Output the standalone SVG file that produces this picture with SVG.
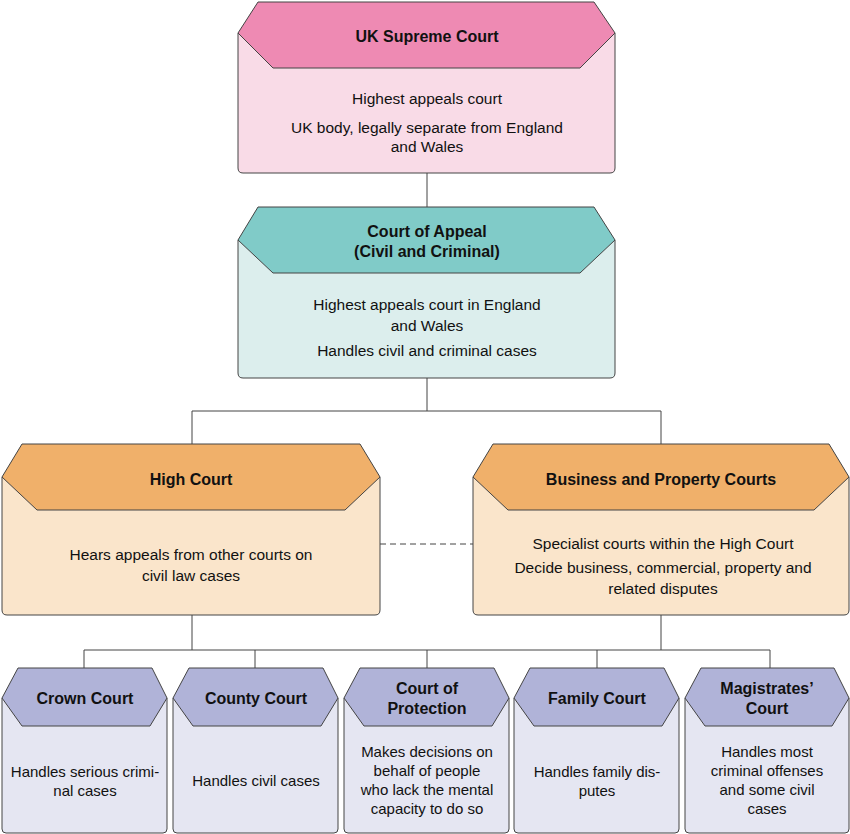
<svg xmlns="http://www.w3.org/2000/svg" width="850" height="834" viewBox="0 0 850 834">
<style>
text{font-family:"Liberation Sans",Arial,sans-serif;fill:#111;text-anchor:middle}
.t{font-weight:bold;font-size:16px}
.b{font-size:15.5px}
.s{font-size:15px}
path,polygon{stroke:#444;stroke-width:1}
.c{stroke:#444;stroke-width:1;fill:none}
</style>
<g id="connectors">
<path class="c" d="M427,173V207M427,378V411M192,411H661M192,411V444M661,411V444M192,615V650M661,615V650M84,650H770M84,650V668M255,650V668M427,650V668M597,650V668M770,650V668"/>
<path class="c" d="M380,544H473" stroke-dasharray="6,4"/>
</g>
<g id="supreme">
<path d="M238,33V168Q238,173 243,173H610Q615,173 615,168V33" fill="#F9DBE7"/>
<polygon points="258,2 594,2 615,33 580,68 273,68 238,33" fill="#EE8AB3"/>
<text class="t" x="427" y="42">UK Supreme Court</text>
<text class="b" x="427" y="104">Highest appeals court</text>
<text class="b" x="427" y="133">UK body, legally separate from England</text>
<text class="b" x="427" y="152">and Wales</text>
</g>
<g id="appeal">
<path d="M238,240V373Q238,378 243,378H610Q615,378 615,373V240" fill="#DCEEED"/>
<polygon points="258,207 594,207 615,240 580,273 273,273 238,240" fill="#80CBC8"/>
<text class="t" x="427" y="237">Court of Appeal</text>
<text class="t" x="427" y="257">(Civil and Criminal)</text>
<text class="b" x="427" y="310">Highest appeals court in England</text>
<text class="b" x="427" y="331">and Wales</text>
<text class="b" x="427" y="356">Handles civil and criminal cases</text>
</g>
<g id="high">
<path d="M2,477V610Q2,615 7,615H375Q380,615 380,610V477" fill="#FAE5CB"/>
<polygon points="22,444 360,444 380,477 345,510 37,510 2,477" fill="#F0B06A"/>
<text class="t" x="191" y="485">High Court</text>
<text class="b" x="191" y="560">Hears appeals from other courts on</text>
<text class="b" x="191" y="581">civil law cases</text>
</g>
<g id="business">
<path d="M473,477V610Q473,615 478,615H844Q849,615 849,610V477" fill="#FAE5CB"/>
<polygon points="493,444 829,444 849,477 814,510 508,510 473,477" fill="#F0B06A"/>
<text class="t" x="661" y="485">Business and Property Courts</text>
<text class="b" x="663" y="549">Specialist courts within the High Court</text>
<text class="b" x="663" y="573">Decide business, commercial, property and</text>
<text class="b" x="663" y="594">related disputes</text>
</g>
<g id="crown">
<path d="M2,698V829Q2,833 6,833H163Q167,833 167,829V698" fill="#E5E6F2"/>
<polygon points="18,668 152,668 167,698 150,726 22,726 2,698" fill="#B0B3D8"/>
<text class="t" x="85" y="704">Crown Court</text>
<text class="s" x="85" y="777">Handles serious crimi-</text>
<text class="s" x="85" y="796">nal cases</text>
</g>
<g id="county">
<path d="M173,698V829Q173,833 177,833H334Q338,833 338,829V698" fill="#E5E6F2"/>
<polygon points="189,668 323,668 338,698 321,726 193,726 173,698" fill="#B0B3D8"/>
<text class="t" x="256" y="704">County Court</text>
<text class="s" x="256" y="786">Handles civil cases</text>
</g>
<g id="protection">
<path d="M344,698V829Q344,833 348,833H505Q509,833 509,829V698" fill="#E5E6F2"/>
<polygon points="360,668 494,668 509,698 492,726 364,726 344,698" fill="#B0B3D8"/>
<text class="t" x="427" y="694">Court of</text>
<text class="t" x="427" y="714">Protection</text>
<text class="s" x="427" y="757">Makes decisions on</text>
<text class="s" x="427" y="776">behalf of people</text>
<text class="s" x="427" y="795">who lack the mental</text>
<text class="s" x="427" y="814">capacity to do so</text>
</g>
<g id="family">
<path d="M514,698V829Q514,833 518,833H675Q679,833 679,829V698" fill="#E5E6F2"/>
<polygon points="530,668 664,668 679,698 662,726 534,726 514,698" fill="#B0B3D8"/>
<text class="t" x="597" y="704">Family Court</text>
<text class="s" x="597" y="777">Handles family dis-</text>
<text class="s" x="597" y="796">putes</text>
</g>
<g id="magistrates">
<path d="M685,698V829Q685,833 689,833H845Q849,833 849,829V698" fill="#E5E6F2"/>
<polygon points="701,668 834,668 849,698 832,726 705,726 685,698" fill="#B0B3D8"/>
<text class="t" x="767" y="694">Magistrates’</text>
<text class="t" x="767" y="714">Court</text>
<text class="s" x="767" y="757">Handles most</text>
<text class="s" x="767" y="776">criminal offenses</text>
<text class="s" x="767" y="795">and some civil</text>
<text class="s" x="767" y="814">cases</text>
</g>
</svg>
